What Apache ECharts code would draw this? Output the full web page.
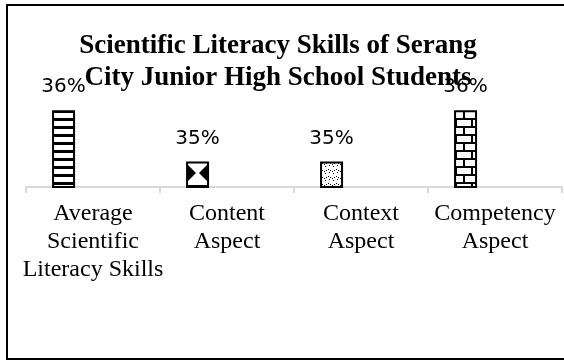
<!DOCTYPE html>
<html>
<head>
<meta charset="utf-8">
<script src="https://cdn.jsdelivr.net/npm/echarts@6/dist/echarts.min.js"></script>
<style>
html,body{margin:0;padding:0;background:#fff;}
#chart{width:564px;height:361px;}
</style>
</head>
<body>
<div id="chart"></div>
<script>
var titleText = 'Scientific Literacy Skills of Serang\nCity Junior High School Students';
var categories = ['Average\nScientific\nLiteracy Skills', 'Content\nAspect', 'Context\nAspect', 'Competency\nAspect'];
var values = [36.0, 35.0, 35.0, 36.0];
var emptySeries = [null, null, null, null];
var axisMin = 34.5;
var axisMax = 37;

function drawStripes(ctx) { ctx.fillRect(0, 0, 8, 3); }
function drawSphere(ctx) {
  ctx.beginPath();
  ctx.moveTo(0, 2); ctx.lineTo(0, 22); ctx.lineTo(10, 12); ctx.closePath(); ctx.fill();
  ctx.beginPath();
  ctx.moveTo(23, 2); ctx.lineTo(23, 22); ctx.lineTo(13, 12); ctx.closePath(); ctx.fill();
  ctx.fillRect(0, 0, 23, 2);
}
function drawWave(ctx) {
  ctx.fillRect(0, 1, 1, 1);
  ctx.fillRect(2, 2, 1, 1);
  ctx.fillRect(4, 3, 1, 1);
  ctx.fillRect(6, 2, 1, 1);
  ctx.fillRect(1, 4, 1, 1);
  ctx.fillRect(5, 5, 1, 1);
}
function drawBrick(ctx) {
  ctx.fillRect(0, 0, 16, 2);
  ctx.fillRect(0, 8, 16, 2);
  ctx.fillRect(9, 0, 2, 8);
  ctx.fillRect(1, 8, 2, 8);
}
var tileDefs = [
  {w: 8, h: 8, draw: drawStripes},
  {w: 23, h: 24, draw: drawSphere},
  {w: 8, h: 7, draw: drawWave},
  {w: 16, h: 16, draw: drawBrick}
];

function makePattern(def, ox, oy) {
  var c = document.createElement('canvas');
  c.width = def.w; c.height = def.h;
  var ctx = c.getContext('2d');
  ctx.fillStyle = '#fff';
  ctx.fillRect(0, 0, def.w, def.h);
  ctx.fillStyle = '#000';
  var mx = ((ox % def.w) + def.w) % def.w;
  var my = ((oy % def.h) + def.h) % def.h;
  for (var dx = -1; dx <= 0; dx++) {
    for (var dy = -1; dy <= 0; dy++) {
      ctx.save();
      ctx.translate(mx + dx * def.w, my + dy * def.h);
      def.draw(ctx);
      ctx.restore();
    }
  }
  return c;
}

function buildData(offsets) {
  return values.map(function (v, i) {
    var o = offsets ? offsets[i] : {x: 0, y: 0};
    return {
      value: v,
      itemStyle: {
        color: {image: makePattern(tileDefs[i], o.x, o.y), repeat: 'repeat'},
        borderColor: '#000',
        borderWidth: 2
      }
    };
  });
}

var chart = echarts.init(document.getElementById('chart'), null, {renderer: 'canvas'});
chart.setOption({
  backgroundColor: '#fff',
  animation: false,
  title: {
    text: titleText,
    left: 273,
    top: 25,
    textAlign: 'center',
    textStyle: {
      fontFamily: 'Liberation Serif',
      fontWeight: 'bold',
      fontSize: 27,
      lineHeight: 32,
      color: '#000'
    }
  },
  grid: {left: 26, right: 2, top: 59, bottom: 174, containLabel: false},
  xAxis: {
    type: 'category',
    data: categories,
    axisLine: {show: true, lineStyle: {color: '#d9d9d9', width: 2}},
    axisTick: {show: true, length: 6, lineStyle: {color: '#d9d9d9', width: 2}},
    axisLabel: {
      interval: 0,
      margin: 13,
      fontFamily: 'Liberation Serif',
      fontSize: 24,
      lineHeight: 28,
      color: '#000'
    }
  },
  yAxis: {
    type: 'value',
    min: axisMin,
    max: axisMax,
    show: false,
    splitLine: {show: false}
  },
  series: [{
    type: 'bar',
    barWidth: 23,
    barGap: '156%',
    data: buildData(null),
    label: {
      show: true,
      position: 'top',
      distance: 13,
      fontFamily: 'DejaVu Sans',
      fontSize: 20,
      color: '#000',
      formatter: function (p) { return Math.round(p.value) + '%'; }
    }
  }, {
    type: 'bar',
    barWidth: 23,
    data: emptySeries,
    silent: true
  }],
  graphic: [{
    type: 'rect',
    shape: {x: 7, y: 5, width: 620, height: 354},
    style: {fill: 'none', stroke: '#000', lineWidth: 2},
    silent: true
  }]
});

// align the fill patterns with each bar's top-left corner
try {
  var sData = chart.getModel().getSeriesByIndex(0).getData();
  var offsets = values.map(function (v, i) {
    var l = sData.getItemLayout(i);
    return {x: Math.round(l.x), y: Math.round(Math.min(l.y, l.y + l.height))};
  });
  chart.setOption({series: [{data: buildData(offsets)}]});
} catch (e) {}
</script>
</body>
</html>
